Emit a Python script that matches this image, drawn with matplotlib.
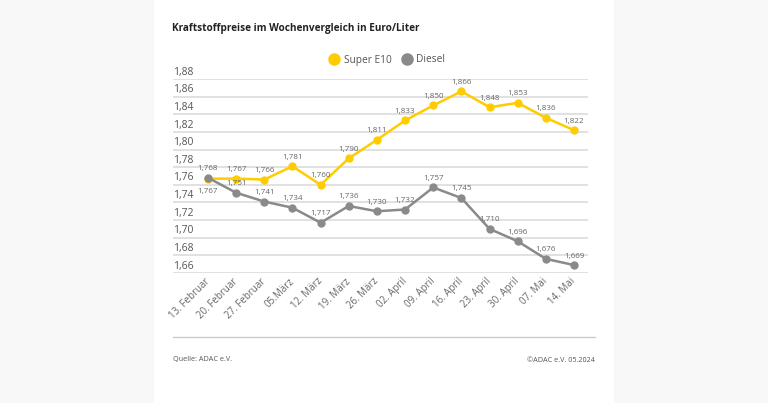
import matplotlib.pyplot as plt
from matplotlib.lines import Line2D
from matplotlib.patches import Rectangle
import matplotlib.transforms as mtransforms

plt.rcParams['font.family'] = ['Open Sans', 'DejaVu Sans']

wochen = ['13. Februar', '20. Februar', '27. Februar', '05.März', '12. März', '19. März',
          '26. März', '02. April', '09. April', '16. April', '23. April', '30. April',
          '07. Mai', '14. Mai']
super_e10 = [1.767, 1.767, 1.766, 1.781, 1.760, 1.790, 1.811, 1.833, 1.850, 1.866,
             1.848, 1.853, 1.836, 1.822]
diesel = [1.768, 1.751, 1.741, 1.734, 1.717, 1.736, 1.730, 1.732, 1.757, 1.745,
          1.710, 1.696, 1.676, 1.669]
y_ticks = [1.66, 1.68, 1.70, 1.72, 1.74, 1.76, 1.78, 1.80, 1.82, 1.84, 1.86, 1.88]

gelb = '#ffcc00'
grau = '#8a8a8a'
W, H = 768, 403

fig = plt.figure(figsize=(W / 100, H / 100), dpi=100, facecolor='#f8f8f8')
# weisses Panel
fig.patches.append(Rectangle((154 / W, 0), (614 - 154) / W, 1, transform=fig.transFigure,
                             facecolor='white', edgecolor='none', zorder=-5))

ax = fig.add_axes([173 / W, 1 - 273 / H, (588 - 173) / W, (273 - 79) / H])
ax.set_facecolor('none')
x = list(range(len(wochen)))
ax.set_xlim(-35 / 28.154, 13 + 14 / 28.154)
ax.set_ylim(1.66, 1.88)

for v in y_ticks:
    ax.axhline(v, color='#dedede', lw=1.3, zorder=1)
    ax.text(0, v + 0.0015, f'{v:.2f}'.replace('.', ','),
            transform=mtransforms.blended_transform_factory(ax.transAxes, ax.transData),
            ha='left', va='bottom', fontsize=7.5, color='#555555')

ax.plot(x, super_e10, color=gelb, lw=1.8, marker='o', ms=5, zorder=3)
ax.plot(x, diesel, color=grau, lw=1.8, marker='o', ms=5, zorder=4)

for i in x:
    e, d = super_e10[i], diesel[i]
    off_e = 4 if i > 0 else -12
    ax.annotate(f'{e:.3f}'.replace('.', ','), (i, e), xytext=(0, off_e), textcoords='offset points',
                ha='center', va='bottom', fontsize=5.8, color='#666666', zorder=5)
    ax.annotate(f'{d:.3f}'.replace('.', ','), (i, d), xytext=(0, 4), textcoords='offset points',
                ha='center', va='bottom', fontsize=5.8, color='#666666', zorder=5)

ax.set_xticks(x)
ax.set_xticklabels(wochen, rotation=45, ha='right', va='center', rotation_mode='anchor',
                   fontsize=7, color='#666666')
ax.tick_params(axis='x', length=0, pad=5)
ax.set_yticks([])
for s in ax.spines.values():
    s.set_visible(False)

fig.text(172 / W, 1 - 28 / H, 'Kraftstoffpreise im Wochenvergleich in Euro/Liter',
         ha='left', va='center', fontsize=7.2, fontweight='bold', color='#222222')

handles = [Line2D([], [], ls='none', marker='o', ms=8, color=gelb),
           Line2D([], [], ls='none', marker='o', ms=8, color=grau)]
fig.legend(handles, ['Super E10', 'Diesel'], loc='center', bbox_to_anchor=(387 / W, 1 - 60 / H),
           ncol=2, frameon=False, fontsize=7.3, handletextpad=0.4, columnspacing=1.0,
           handlelength=1.0, labelcolor='#555555')

fig.add_artist(Line2D([173 / W, 595 / W], [1 - 337 / H, 1 - 337 / H], color='#cccccc', lw=1))
fig.text(173 / W, 1 - 360 / H, 'Quelle: ADAC e.V.', ha='left', va='center', fontsize=5.2, color='#555555')
fig.text(595 / W, 1 - 360 / H, '©ADAC e.V. 05.2024', ha='right', va='center', fontsize=5.2, color='#555555')

fig.savefig('out.png', dpi=100, facecolor=fig.get_facecolor())
